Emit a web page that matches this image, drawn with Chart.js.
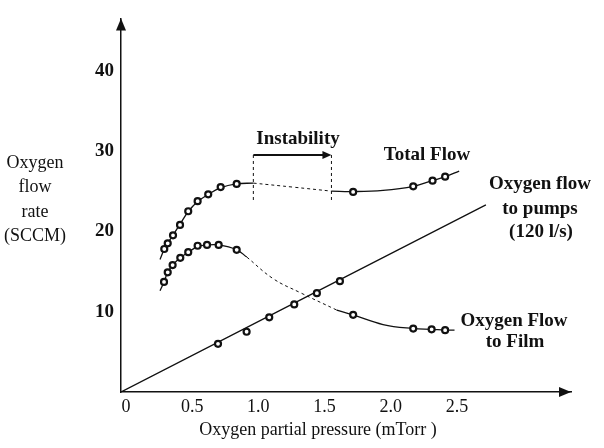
<!DOCTYPE html>
<html>
<head>
<meta charset="utf-8">
<script src="https://cdn.jsdelivr.net/npm/chart.js@4"></script>
<style>
  html, body { margin: 0; padding: 0; background: #fff; }
  #wrap { position: relative; width: 604px; height: 448px; }
</style>
</head>
<body>
<div id="wrap"><canvas id="chart" width="604" height="448"></canvas></div>
<script>
// measured points (oxygen partial pressure in mTorr, flow in SCCM)
const totalX = [0.327, 0.353, 0.393, 0.446, 0.508, 0.579, 0.659, 0.753, 0.874, 1.754, 2.208, 2.354, 2.449];
const totalY = [17.8, 18.5, 19.5, 20.8, 22.5, 23.75, 24.6, 25.5, 25.9, 24.9, 25.6, 26.3, 26.8];
const filmX = [0.325, 0.353, 0.390, 0.448, 0.508, 0.579, 0.650, 0.738, 0.874, 1.754, 2.208, 2.347, 2.449];
const filmY = [13.7, 14.9, 15.8, 16.7, 17.4, 18.2, 18.3, 18.3, 17.7, 9.6, 7.9, 7.8, 7.7];
const pumpX = [0.733, 0.949, 1.120, 1.309, 1.480, 1.654];
const pumpY = [6.0, 7.5, 9.3, 10.9, 12.3, 13.8];

// hand-drawn trend curves
const totalLowX = [0.295, 0.33, 0.36, 0.40, 0.45, 0.51, 0.58, 0.66, 0.75, 0.87, 1.0];
const totalLowY = [16.5, 17.9, 18.7, 19.7, 21.0, 22.5, 23.7, 24.6, 25.4, 25.9, 26.0];
const totalGapX = [1.0, 1.3, 1.59];
const totalGapY = [26.0, 25.5, 25.0];
const totalHighX = [1.59, 1.75, 1.98, 2.21, 2.35, 2.45, 2.555];
const totalHighY = [25.0, 24.95, 25.1, 25.6, 26.3, 26.8, 27.5];

const filmLowX = [0.295, 0.325, 0.353, 0.39, 0.448, 0.508, 0.579, 0.65, 0.738, 0.874, 0.95];
const filmLowY = [12.6, 13.7, 14.9, 15.8, 16.7, 17.4, 18.1, 18.3, 18.3, 17.7, 16.8];
const filmGapX = [0.95, 1.15, 1.35, 1.63];
const filmGapY = [16.8, 14.1, 12.4, 10.2];
const filmHighX = [1.63, 1.754, 1.98, 2.208, 2.347, 2.449, 2.52];
const filmHighY = [10.2, 9.6, 8.4, 7.9, 7.8, 7.7, 7.7];

const pumpLineX = [0, 2.757];
const pumpLineY = [0, 23.3];

const xTicks = [0, 0.5, 1.0, 1.5, 2.0, 2.5];
const yTicks = [10, 20, 30, 40];

// instability window (mTorr) and the height of its bracket (SCCM)
const instabilityFrom = 1.0;
const instabilityTo = 1.59;
const bracketTop = 29.5;
const bracketBottom = 23.8;

const pairs = (xs, ys) => xs.map((x, i) => ({ x, y: ys[i] }));

const SERIF = "'Liberation Serif', 'Times New Roman', serif";
const INK = "#111";

function markers(xs, ys) {
  return {
    data: pairs(xs, ys),
    showLine: false,
    pointRadius: 3,
    pointBorderWidth: 2.2,
    pointBorderColor: INK,
    pointBackgroundColor: "#fff",
  };
}

function curve(xs, ys, dashed) {
  return {
    data: pairs(xs, ys),
    showLine: true,
    tension: 0.4,
    borderColor: INK,
    borderWidth: dashed ? 1 : 1.3,
    borderDash: dashed ? [3, 3] : [],
    pointRadius: 0,
  };
}

const annotationPlugin = {
  id: "annotationPlugin",
  afterDraw(chart) {
    const { ctx, chartArea: area, scales } = chart;
    ctx.save();
    ctx.fillStyle = INK;
    ctx.strokeStyle = INK;

    // axis arrowheads
    ctx.beginPath();
    ctx.moveTo(area.left, area.top);
    ctx.lineTo(area.left - 5, area.top + 12);
    ctx.lineTo(area.left + 5, area.top + 12);
    ctx.closePath();
    ctx.fill();
    ctx.beginPath();
    ctx.moveTo(area.right, area.bottom);
    ctx.lineTo(area.right - 12, area.bottom - 5);
    ctx.lineTo(area.right - 12, area.bottom + 5);
    ctx.closePath();
    ctx.fill();

    // instability bracket
    const x1 = scales.x.getPixelForValue(instabilityFrom);
    const x2 = scales.x.getPixelForValue(instabilityTo);
    const yTop = scales.y.getPixelForValue(bracketTop);
    const yBot = scales.y.getPixelForValue(bracketBottom);
    ctx.lineWidth = 1;
    ctx.setLineDash([3, 3]);
    ctx.beginPath();
    ctx.moveTo(x1, yTop); ctx.lineTo(x1, yBot);
    ctx.moveTo(x2, yTop); ctx.lineTo(x2, yBot);
    ctx.stroke();
    ctx.setLineDash([]);
    ctx.lineWidth = 2;
    ctx.beginPath();
    ctx.moveTo(x1, yTop);
    ctx.lineTo(x2 - 6, yTop);
    ctx.stroke();
    ctx.beginPath();
    ctx.moveTo(x2, yTop);
    ctx.lineTo(x2 - 9, yTop - 4);
    ctx.lineTo(x2 - 9, yTop + 4);
    ctx.closePath();
    ctx.fill();

    ctx.textAlign = "center";
    ctx.textBaseline = "middle";
    ctx.font = `bold 19px ${SERIF}`;
    ctx.fillText("Instability", 298, 139);
    ctx.fillText("Total Flow", 427, 155);
    ctx.fillText("Oxygen flow", 540, 184);
    ctx.fillText("to pumps", 540, 209);
    ctx.fillText("(120 l/s)", 541, 232);
    ctx.fillText("Oxygen Flow", 514, 321);
    ctx.fillText("to Film", 515, 342);

    ctx.font = `18px ${SERIF}`;
    ["Oxygen", "flow", "rate", "(SCCM)"].forEach((line, i) => {
      ctx.fillText(line, 35, 163 + i * 24.5);
    });
    ctx.fillText("Oxygen partial pressure (mTorr )", 318, 430);
    ctx.restore();
  },
};

new Chart(document.getElementById("chart"), {
  type: "scatter",
  data: {
    datasets: [
      markers(totalX, totalY),
      markers(filmX, filmY),
      markers(pumpX, pumpY),
      curve(totalLowX, totalLowY, false),
      curve(totalGapX, totalGapY, true),
      curve(totalHighX, totalHighY, false),
      curve(filmLowX, filmLowY, false),
      curve(filmGapX, filmGapY, true),
      curve(filmHighX, filmHighY, false),
      curve(pumpLineX, pumpLineY, false),
    ],
  },
  plugins: [annotationPlugin],
  options: {
    responsive: false,
    animation: false,
    events: [],
    layout: { padding: { top: 12, right: 33, bottom: 0, left: 0 } },
    plugins: {
      legend: { display: false },
      tooltip: { enabled: false },
    },
    scales: {
      x: {
        type: "linear",
        min: 0,
        max: 3.4,
        afterFit(scale) { scale.height = 56; },
        afterBuildTicks(scale) { scale.ticks = xTicks.map((value) => ({ value })); },
        grid: { display: false, drawTicks: false },
        border: { display: true, color: INK, width: 1.5 },
        ticks: {
          padding: 4,
          labelOffset: 5,
          color: INK,
          font: { family: SERIF, size: 18 },
          callback: (v) => (v === 0 ? "0" : v.toFixed(1)),
        },
      },
      y: {
        type: "linear",
        min: 0,
        max: 46.5,
        afterFit(scale) { scale.width = 121; },
        afterBuildTicks(scale) { scale.ticks = yTicks.map((value) => ({ value })); },
        grid: { display: false, drawTicks: false },
        border: { display: true, color: INK, width: 1.5 },
        ticks: {
          padding: 7,
          color: INK,
          font: { family: SERIF, size: 19, weight: "bold" },
        },
      },
    },
  },
});
</script>
</body>
</html>
